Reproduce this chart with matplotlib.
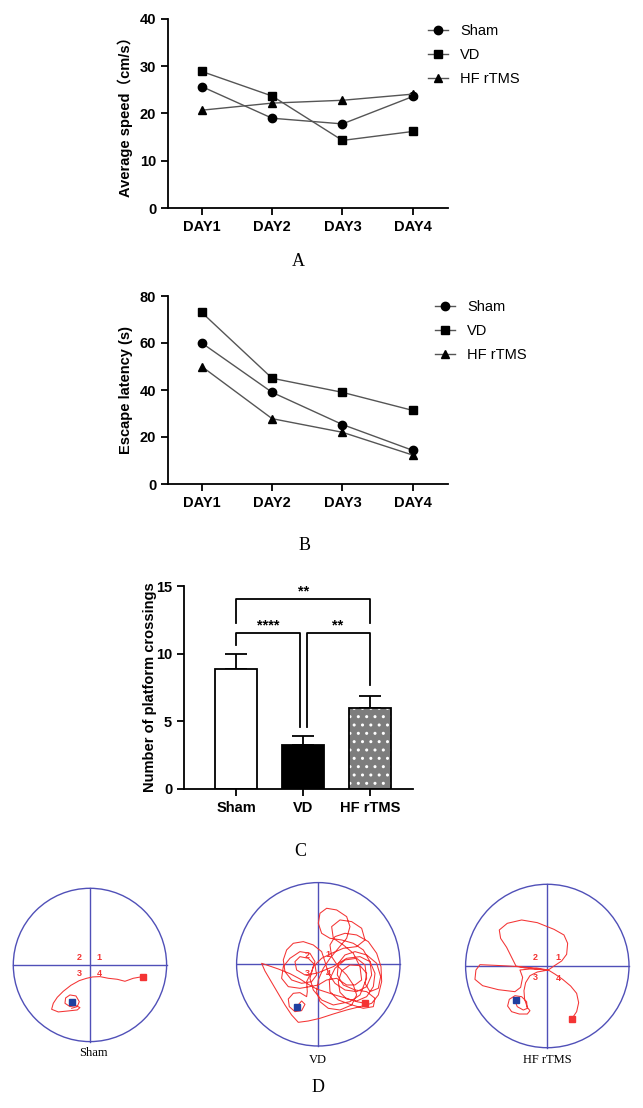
import numpy as np
import matplotlib
matplotlib.use('Agg')
import matplotlib.pyplot as plt
from matplotlib.patches import Circle

plt.rcParams['font.family'] = ['Liberation Sans', 'Noto Sans CJK SC']

# ---- data ----
days = ['DAY1', 'DAY2', 'DAY3', 'DAY4']
groups = ['Sham', 'VD', 'HF rTMS']
markers = ['o', 's', '^']

speed_sham = [25.7, 19.0, 17.8, 23.6]
speed_vd = [28.9, 23.7, 14.3, 16.2]
speed_hf = [20.7, 22.2, 22.8, 24.1]

latency_sham = [60.0, 39.0, 25.3, 14.3]
latency_vd = [73.0, 45.0, 39.0, 31.3]
latency_hf = [50.0, 27.8, 22.0, 12.3]

crossings_mean = [8.9, 3.25, 6.0]
crossings_sem = [1.1, 0.7, 0.9]

# swim tracks in camera pixel coordinates (y grows downwards)
sham_track = [(428, 350), (400, 355), (375, 364), (352, 358), (325, 355), (300, 350), (278, 351),
              (260, 355), (238, 362), (213, 376), (190, 394), (172, 412), (160, 430), (155, 448),
              (175, 456), (205, 453), (232, 450), (240, 443), (228, 437), (210, 440), (195, 430),
              (197, 414), (210, 405), (228, 408), (238, 425), (232, 440), (215, 445)]
sham_start, sham_platform = (428, 350), (215, 425)

vd_track = [(345, 325), (320, 320), (290, 310), (255, 300), (225, 290), (200, 282), (175, 268),
            (150, 252), (120, 236), (85, 222), (55, 212), (35, 205), (45, 228), (65, 262),
            (85, 296), (105, 330), (125, 360), (145, 382), (175, 378), (210, 370), (250, 357),
            (290, 345), (330, 335), (365, 325), (385, 300), (395, 260), (393, 215), (380, 175),
            (355, 140), (320, 120), (285, 115), (255, 125), (240, 150), (245, 185), (265, 215),
            (290, 240), (310, 270), (320, 300), (305, 330), (270, 345), (235, 340), (210, 320),
            (200, 290), (205, 255), (220, 220), (240, 190), (265, 160), (290, 130), (300, 95),
            (290, 65), (260, 45), (230, 40), (210, 55), (205, 85), (215, 115), (240, 130),
            (275, 135), (310, 145), (340, 165), (360, 200), (365, 240), (350, 275), (320, 290),
            (285, 285), (255, 265), (235, 235), (225, 200), (215, 170), (190, 150), (160, 140),
            (130, 145), (110, 165), (100, 195), (105, 230), (125, 255), (155, 265), (185, 260),
            (200, 240), (195, 210), (175, 190), (150, 185), (135, 200), (140, 225), (165, 240),
            (200, 235), (250, 215), (290, 190), (330, 185), (360, 200), (375, 235), (370, 275),
            (350, 305), (320, 318), (290, 312), (270, 292), (265, 260), (275, 228), (300, 210),
            (330, 212), (350, 235), (345, 265), (360, 290), (385, 280), (392, 245), (380, 205),
            (350, 180), (315, 170), (285, 180), (265, 205), (262, 240), (280, 270), (315, 285),
            (350, 290), (375, 310), (370, 335), (340, 340), (300, 328), (265, 315), (240, 290),
            (238, 255), (255, 220), (285, 195), (320, 190), (345, 210), (350, 250), (330, 300),
            (300, 320), (250, 330), (215, 315), (190, 285), (180, 250), (190, 215), (215, 190),
            (245, 175), (280, 160), (320, 155), (345, 135), (335, 100), (305, 80), (270, 75),
            (245, 95), (250, 130), (280, 150), (310, 175), (330, 215), (335, 255), (315, 270),
            (290, 270), (260, 250), (230, 255), (205, 270), (180, 275), (150, 280), (115, 275),
            (95, 250), (100, 215), (120, 190), (150, 170), (180, 175), (195, 200), (185, 230),
            (170, 260), (172, 290), (170, 305), (150, 293), (130, 295), (115, 312), (118, 335),
            (135, 350), (155, 347), (165, 328), (155, 318), (140, 335)]
vd_start, vd_platform = (345, 325), (140, 335)

hf_track = [(425, 477), (440, 455), (446, 428), (440, 400), (422, 378), (398, 358), (376, 343),
            (355, 330), (372, 318), (395, 303), (410, 283), (413, 250), (402, 225), (372, 208),
            (322, 188), (275, 180), (232, 190), (208, 210), (212, 235), (230, 262), (245, 292),
            (258, 318), (285, 324), (320, 324), (355, 330), (320, 327), (290, 322), (265, 320),
            (235, 318), (195, 316), (150, 314), (138, 330), (135, 358), (158, 377), (205, 389),
            (255, 395), (272, 382), (278, 352), (270, 330), (300, 327), (340, 329), (355, 330),
            (322, 336), (300, 347), (287, 368), (282, 392), (284, 418), (292, 442), (300, 452),
            (292, 462), (268, 462), (245, 455), (233, 438), (238, 418), (255, 407), (275, 410),
            (290, 425), (292, 445), (280, 450), (262, 440), (257, 428)]
hf_start, hf_platform = (425, 477), (257, 420)

# quadrant number positions (labels 2, 1, 3, 4)
quadrants = ['2', '1', '3', '4']
sham_quad = [(238, 292), (297, 292), (238, 340), (298, 342)]
vd_quad = [(172, 183), (235, 180), (172, 237), (235, 237)]
hf_quad = [(315, 293), (383, 293), (315, 352), (386, 355)]

W, H = 643, 1108
fig = plt.figure(figsize=(W / 100, H / 100), dpi=100)


def px_axes(left, top, width, height):
    return fig.add_axes([left / W, 1 - (top + height) / H, width / W, height / H])


def style_axes(ax):
    for s in ['top', 'right']:
        ax.spines[s].set_visible(False)
    for s in ['left', 'bottom']:
        ax.spines[s].set_linewidth(1.3)
    ax.tick_params(width=1.3, length=5, direction='out')


def line_panel(ax, series, ymax, ystep, ylabel, legend_xy):
    x = np.arange(len(days))
    for vals, m, lab in zip(series, markers, groups):
        ax.plot(x, vals, color='#555555', lw=1.0, marker=m, ms=6.3 if m == '^' else 6,
                mfc='black', mec='black', label=lab, clip_on=False)
    ax.set_xlim(-0.48, 3.5)
    ax.set_ylim(0, ymax)
    ax.set_yticks(np.arange(0, ymax + 1, ystep))
    ax.set_xticks(x, days, fontweight='bold', fontsize=10.5)
    for t in ax.get_yticklabels():
        t.set_fontweight('bold')
        t.set_fontsize(10.5)
    style_axes(ax)
    ax.set_ylabel(ylabel, fontweight='bold', fontsize=10.5)
    ax.yaxis.set_label_coords(-0.125, 0.5)
    ax.legend(loc='upper left', bbox_to_anchor=(legend_xy[0] / W, 1 - legend_xy[1] / H),
              bbox_transform=fig.transFigure, frameon=False, fontsize=10.5,
              handlelength=1.4, handletextpad=0.8, labelspacing=0.7,
              borderpad=0, borderaxespad=0)


# ---- A ----
axA = px_axes(168, 19, 280, 189)
line_panel(axA, [speed_sham, speed_vd, speed_hf], 40, 10, 'Average speed（cm/s）', (428, 24))

# ---- B ----
axB = px_axes(168, 296, 280, 188)
line_panel(axB, [latency_sham, latency_vd, latency_hf], 80, 20, 'Escape latency (s)', (435, 300))

# ---- C ----
axC = px_axes(184, 586, 229, 203)
xb = np.arange(len(groups))
bw = 0.63
axC.bar(xb[0], crossings_mean[0], bw, facecolor='white', edgecolor='black', lw=1.3, zorder=2)
axC.bar(xb[1], crossings_mean[1], bw, facecolor='black', edgecolor='black', lw=1.3, zorder=2)
axC.bar(xb[2], crossings_mean[2], bw, facecolor='#7d7d7d', edgecolor='white', hatch='..', lw=0, zorder=2)
axC.bar(xb[2], crossings_mean[2], bw, fill=False, edgecolor='black', lw=1.3, zorder=3)
axC.errorbar(xb, crossings_mean, yerr=[[0, 0, 0], crossings_sem], fmt='none', ecolor='black',
             elinewidth=1.3, capsize=8, capthick=1.3, zorder=1)
axC.set_xlim(-0.78, 2.64)
axC.set_ylim(0, 15)
axC.set_yticks([0, 5, 10, 15])
axC.set_xticks(xb, groups, fontweight='bold', fontsize=10.5)
for t in axC.get_yticklabels():
    t.set_fontweight('bold')
    t.set_fontsize(10.5)
style_axes(axC)
axC.set_ylabel('Number of platform crossings', fontweight='bold', fontsize=10.5)
axC.yaxis.set_label_coords(-0.118, 0.5)

# significance brackets
axC.plot([0, 0, 2, 2], [12.3, 14.05, 14.05, 12.3], color='black', lw=1.3)
axC.text(1, 14.05, '**', ha='center', va='bottom', fontweight='bold', fontsize=10.5)
axC.plot([0, 0, 0.95, 0.95], [10.65, 11.55, 11.55, 4.6], color='black', lw=1.3)
axC.text(0.48, 11.55, '****', ha='center', va='bottom', fontweight='bold', fontsize=10.5)
axC.plot([1.05, 1.05, 2, 2], [4.6, 11.55, 11.55, 7.7], color='black', lw=1.3)
axC.text(1.52, 11.55, '**', ha='center', va='bottom', fontweight='bold', fontsize=10.5)

# ---- D ----
blue = '#5050b8'
red = '#f43434'


def arena(ax_rect, centre, r, track, start, platform, quad_pos):
    ax = px_axes(*ax_rect)
    cx, cy = centre
    ax.set_xlim(cx - r, cx + r)
    ax.set_ylim(cy + r, cy - r)
    ax.set_aspect('equal')
    ax.axis('off')
    ax.add_patch(Circle((cx, cy), r, fill=False, ec=blue, lw=1.0, clip_on=False))
    ax.plot([cx - r, cx + r], [cy, cy], color=blue, lw=1.0, clip_on=False)
    ax.plot([cx, cx], [cy - r, cy + r], color=blue, lw=1.0, clip_on=False)
    tx, ty = np.array(track).T
    ax.plot(tx, ty, color=red, lw=0.75)
    ax.plot(*start, marker='s', ms=4.5, color=red, ls='none')
    ax.plot(*platform, marker='s', ms=4.5, color='#2040a0', ls='none')
    for q, (qx, qy) in zip(quadrants, quad_pos):
        ax.text(qx, qy, q, color=red, fontsize=6.5, fontweight='bold', ha='center', va='center')
    return ax


arena((13.3, 888.3, 153.3, 153.3), (270, 315), 230, sham_track, sham_start, sham_platform, sham_quad)
arena((236.6, 882.6, 163.4, 163.4), (205, 208), 245, vd_track, vd_start, vd_platform, vd_quad)
arena((465.6, 884.3, 163.4, 163.4), (352, 318), 245, hf_track, hf_start, hf_platform, hf_quad)

serif = 'Liberation Serif'
fig.text(93 / W, 1 - 1053 / H, 'Sham', family=serif, fontsize=9, ha='center', va='center')
fig.text(318 / W, 1 - 1060 / H, 'VD', family=serif, fontsize=9, ha='center', va='center')
fig.text(547 / W, 1 - 1060 / H, 'HF rTMS', family=serif, fontsize=9, ha='center', va='center')

# panel letters
for lab, (lx, ly) in zip('ABCD', [(298, 262), (305, 545), (300, 852), (318, 1087)]):
    fig.text(lx / W, 1 - ly / H, lab, family=serif, fontsize=13, ha='center', va='center')

fig.savefig('out.png', dpi=100)
